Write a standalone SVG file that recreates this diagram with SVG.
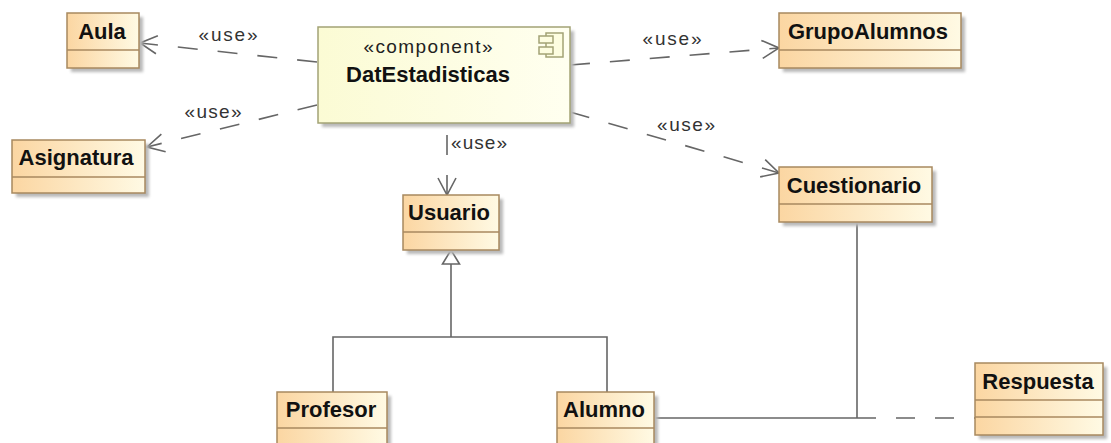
<svg xmlns="http://www.w3.org/2000/svg" width="1111" height="443" viewBox="0 0 1111 443">
<defs>
<linearGradient id="gc" x1="0" y1="0" x2="1" y2="0">
<stop offset="0" stop-color="#fbd6a2"/>
<stop offset="1" stop-color="#fffae4"/>
</linearGradient>
<linearGradient id="gk" x1="0" y1="0" x2="1" y2="0">
<stop offset="0" stop-color="#fbfbd4"/>
<stop offset="1" stop-color="#fffff0"/>
</linearGradient>
<filter id="sh" x="-10%" y="-10%" width="130%" height="140%">
<feGaussianBlur stdDeviation="1.5"/>
</filter>
<marker id="open" markerUnits="userSpaceOnUse" markerWidth="24" markerHeight="24" refX="20" refY="12" orient="auto" viewBox="0 0 24 24">
<path d="M3 3 L20 12 L3 21" fill="none" stroke="#666" stroke-width="1.6"/>
</marker>
<style>
.box{fill:url(#gc);stroke:#a8895f;stroke-width:1.5}
.div{stroke:#a8895f;stroke-width:1.5}
.shadow{fill:#b8b8b8;filter:url(#sh)}
.comp{fill:url(#gk);stroke:#a3a375;stroke-width:1.5}
.name{font-family:"Liberation Sans",Arial,sans-serif;font-weight:bold;font-size:22px;fill:#111;text-anchor:middle}
.ster{font-family:"Liberation Sans",Arial,sans-serif;font-size:19px;fill:#222;text-anchor:middle}
.lbl{font-family:"Liberation Sans",Arial,sans-serif;font-size:19px;fill:#333;text-anchor:middle}
.dep{fill:none;stroke:#666;stroke-width:1.6;stroke-dasharray:20 20}
.solid{fill:none;stroke:#666;stroke-width:1.6}
.assoc{fill:none;stroke:#666;stroke-width:1.6;stroke-dasharray:19 20}
</style>
</defs>
<rect width="1111" height="443" fill="#ffffff"/>

<g id="connectors">
<line class="dep" x1="317" y1="62" x2="140" y2="43" marker-end="url(#open)"/>
<line class="dep" x1="317" y1="105" x2="147" y2="147" marker-end="url(#open)"/>
<line class="dep" x1="570" y1="65" x2="779" y2="48" marker-end="url(#open)"/>
<line class="dep" x1="570" y1="112" x2="779" y2="173" marker-end="url(#open)"/>
<line class="dep" x1="447" y1="135" x2="447" y2="195" marker-end="url(#open)"/>
<text class="lbl" x="228" y="41" textLength="59">«use»</text>
<text class="lbl" x="213" y="118" textLength="57">«use»</text>
<text class="lbl" x="672" y="45" textLength="59">«use»</text>
<text class="lbl" x="686" y="131" textLength="58">«use»</text>
<text class="lbl" x="479" y="149" textLength="56">«use»</text>
<polyline class="solid" points="333,392 333,337 607,337 607,392"/>
<line class="solid" x1="451" y1="337" x2="451" y2="264"/>
<polygon points="451,250 442.5,264 459.5,264" fill="#ffffff" stroke="#666" stroke-width="1.6"/>
<line class="solid" x1="655" y1="418" x2="857" y2="418"/>
<line class="solid" x1="857" y1="222" x2="857" y2="418"/>
<line class="assoc" x1="857" y1="418" x2="975" y2="418"/>
</g>

<g id="DatEstadisticas">
<rect class="shadow" x="322" y="31" width="252" height="96"/>
<rect class="comp" x="318" y="27" width="252" height="96"/>
<rect x="546" y="33" width="17" height="24" fill="#fdfde0" stroke="#a3a375" stroke-width="1.5"/>
<rect x="539" y="36" width="14" height="7" fill="#fdfde0" stroke="#a3a375" stroke-width="1.5"/>
<rect x="539" y="47" width="14" height="7" fill="#fdfde0" stroke="#a3a375" stroke-width="1.5"/>
<text class="ster" x="428" y="53" textLength="129">«component»</text>
<text class="name" x="428" y="82">DatEstadisticas</text>
</g>

<g id="Aula">
<rect class="shadow" x="71" y="17" width="72" height="55"/>
<rect class="box" x="67" y="13" width="72" height="55"/>
<line class="div" x1="67" y1="50" x2="139" y2="50"/>
<text class="name" x="102" y="39">Aula</text>
</g>

<g id="Asignatura">
<rect class="shadow" x="16" y="144" width="133" height="53"/>
<rect class="box" x="12" y="140" width="133" height="53"/>
<line class="div" x1="12" y1="177" x2="145" y2="177"/>
<text class="name" x="76" y="165">Asignatura</text>
</g>

<g id="GrupoAlumnos">
<rect class="shadow" x="783" y="17" width="182" height="55"/>
<rect class="box" x="779" y="13" width="182" height="55"/>
<line class="div" x1="779" y1="50" x2="961" y2="50"/>
<text class="name" x="868" y="39">GrupoAlumnos</text>
</g>

<g id="Cuestionario">
<rect class="shadow" x="783" y="171" width="153" height="55"/>
<rect class="box" x="779" y="167" width="153" height="55"/>
<line class="div" x1="779" y1="204" x2="932" y2="204"/>
<text class="name" x="854" y="193">Cuestionario</text>
</g>

<g id="Usuario">
<rect class="shadow" x="407" y="199" width="96" height="55"/>
<rect class="box" x="403" y="195" width="96" height="55"/>
<line class="div" x1="403" y1="232" x2="499" y2="232"/>
<text class="name" x="449" y="220">Usuario</text>
</g>

<g id="Profesor">
<rect class="shadow" x="281" y="396" width="110" height="70"/>
<rect class="box" x="277" y="392" width="110" height="70"/>
<line class="div" x1="277" y1="428" x2="387" y2="428"/>
<text class="name" x="331" y="417">Profesor</text>
</g>

<g id="Alumno">
<rect class="shadow" x="561" y="396" width="97" height="70"/>
<rect class="box" x="557" y="392" width="97" height="70"/>
<line class="div" x1="557" y1="428" x2="654" y2="428"/>
<text class="name" x="604" y="417">Alumno</text>
</g>

<g id="Respuesta">
<rect class="shadow" x="979" y="367" width="128" height="72"/>
<rect class="box" x="975" y="363" width="128" height="72"/>
<line class="div" x1="975" y1="400" x2="1103" y2="400"/>
<line class="div" x1="975" y1="417" x2="1103" y2="417"/>
<text class="name" x="1038" y="389">Respuesta</text>
</g>
</svg>
